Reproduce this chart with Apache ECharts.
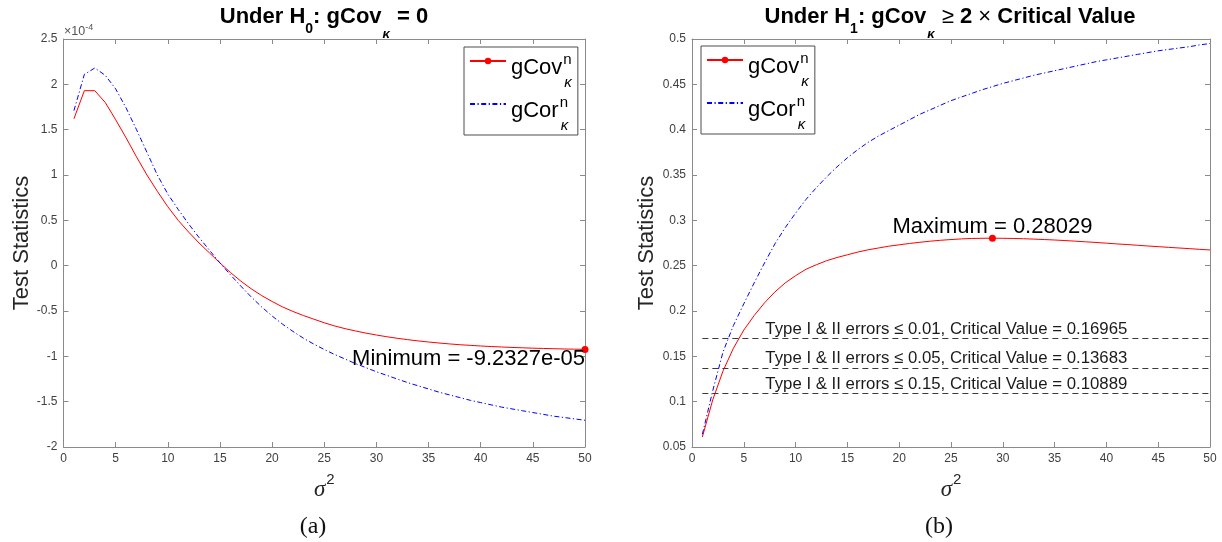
<!DOCTYPE html>
<html>
<head>
<meta charset="utf-8">
<script src="https://cdn.jsdelivr.net/npm/echarts@6/dist/echarts.min.js"></script>
<style>html,body{margin:0;padding:0;background:#fff}#c{width:1222px;height:542px}</style>
</head>
<body>
<div id="c"></div>
<script>
// ---- data ----
const sigma2 = [1,2,3,4,5,6,7,8,9,10,11,12,13,14,15,16,17,18,19,20,21,22,23,24,25,26,27,28,29,30,31,32,33,34,35,36,37,38,39,40,41,42,43,44,45,46,47,48,49,50];
// panel (a), values in units of 1e-4
const gCovH0 = [1.62,1.93,1.93,1.80,1.61,1.41,1.20,1.00,0.82,0.65,0.50,0.37,0.25,0.14,0.03,-0.075,-0.17,-0.255,-0.33,-0.395,-0.455,-0.505,-0.55,-0.59,-0.63,-0.665,-0.695,-0.72,-0.744,-0.765,-0.784,-0.801,-0.816,-0.83,-0.842,-0.853,-0.863,-0.872,-0.879,-0.886,-0.892,-0.897,-0.902,-0.906,-0.91,-0.913,-0.916,-0.919,-0.921,-0.92327];
const gCorH0 = [1.71,2.11,2.18,2.10,1.95,1.74,1.50,1.25,1.00,0.79,0.62,0.46,0.31,0.17,0.03,-0.10,-0.225,-0.345,-0.455,-0.555,-0.645,-0.725,-0.80,-0.865,-0.925,-0.98,-1.03,-1.08,-1.125,-1.17,-1.21,-1.25,-1.29,-1.325,-1.36,-1.395,-1.425,-1.455,-1.485,-1.51,-1.535,-1.56,-1.58,-1.60,-1.62,-1.64,-1.66,-1.675,-1.69,-1.705];
const scaleExponentH0 = -4;
// panel (b)
const gCovH1 = [0.061,0.102,0.134,0.159,0.179,0.195,0.209,0.221,0.231,0.239,0.246,0.251,0.2555,0.259,0.262,0.265,0.2675,0.2695,0.2715,0.273,0.2745,0.2758,0.277,0.278,0.2788,0.2795,0.28,0.2802,0.28029,0.2802,0.28,0.2797,0.2793,0.2788,0.2783,0.2777,0.277,0.2763,0.2756,0.2748,0.274,0.2733,0.2725,0.2717,0.271,0.2702,0.2695,0.2688,0.268,0.2673];
const gCorH1 = [0.064,0.112,0.155,0.184,0.208,0.231,0.253,0.274,0.292,0.308,0.323,0.336,0.348,0.359,0.369,0.378,0.386,0.393,0.399,0.405,0.411,0.417,0.422,0.427,0.432,0.436,0.440,0.444,0.4475,0.451,0.454,0.457,0.460,0.4625,0.465,0.4675,0.470,0.4725,0.475,0.477,0.479,0.481,0.483,0.485,0.487,0.4885,0.490,0.4915,0.4935,0.495];
const errorLevels = ['0.01','0.05','0.15'];
const criticalValues = [0.16965,0.13683,0.10889];
const seriesNames = ['gCov','gCor'];

// ---- styling ----
const FF = '"Liberation Sans", Arial, Helvetica, sans-serif';
const AX = '#8a8a8a';
const pairs = ys => sigma2.map((x, i) => [x, ys[i]]);

function xAxes(g) {
  const base = {type:'value', gridIndex:g, min:0, max:50, interval:5,
    axisLine:{show:true, onZero:false, lineStyle:{color:AX, width:1}},
    axisTick:{show:true, inside:true, length:5, lineStyle:{color:AX}},
    splitLine:{show:false}};
  return [
    Object.assign({}, base, {position:'bottom',
      axisLabel:{color:'#404040', fontSize:12, fontFamily:FF, margin:6, showMinLabel:true, showMaxLabel:true},
      name:'{s|σ}{p|2}', nameLocation:'middle', nameGap:25,
      nameTextStyle:{rich:{
        s:{fontSize:23, fontStyle:'italic', fontFamily:'"Liberation Serif", serif', color:'#262626', lineHeight:28, verticalAlign:'top', padding:[6,0,0,0]},
        p:{fontSize:15, fontFamily:FF, color:'#262626', lineHeight:16, verticalAlign:'top', padding:[0,0,0,1]}
      }}}),
    Object.assign({}, base, {position:'top', axisLabel:{show:false}})
  ];
}
function yAxes(g, min, max, interval, gap) {
  const base = {type:'value', gridIndex:g, min:min, max:max, interval:interval,
    axisLine:{show:true, onZero:false, lineStyle:{color:AX, width:1}},
    axisTick:{show:true, inside:true, length:5, lineStyle:{color:AX}},
    splitLine:{show:false}};
  return [
    Object.assign({}, base, {position:'left',
      axisLabel:{color:'#404040', fontSize:12, fontFamily:FF, margin:6, showMinLabel:true, showMaxLabel:true},
      name:'Test Statistics', nameLocation:'middle', nameRotate:90, nameGap:gap,
      nameTextStyle:{fontSize:22, fontFamily:FF, color:'#262626'}}),
    Object.assign({}, base, {position:'right', axisLabel:{show:false}})
  ];
}

const titleRich = {
  b:{fontSize:22, fontWeight:'bold', fontFamily:FF, color:'#000', lineHeight:24, verticalAlign:'top'},
  n:{fontSize:22, fontWeight:'normal', fontFamily:FF, color:'#000', lineHeight:24, verticalAlign:'top'},
  s:{fontSize:14, fontWeight:'bold', fontFamily:FF, color:'#000', lineHeight:16, verticalAlign:'top', padding:[16.5,0,0,0]},
  k:{fontSize:13, fontStyle:'italic', fontWeight:'bold', fontFamily:FF, color:'#000', lineHeight:14, verticalAlign:'top', padding:[22,1,0,1]}
};
const legendRich = {
  m:{fontSize:22, fontFamily:FF, color:'#000', lineHeight:24, verticalAlign:'top', padding:[8,0,8,0]},
  p:{fontSize:15, fontFamily:FF, color:'#000', lineHeight:16, verticalAlign:'top', padding:[3,0,0,1], width:0},
  k:{fontSize:15, fontStyle:'italic', fontFamily:FF, color:'#000', lineHeight:14, verticalAlign:'top', padding:[26,0,0,1]}
};
function legendAt(left, top) {
  return {
    data:[{name:seriesNames[0]}, {name:seriesNames[1], itemStyle:{opacity:0}}],
    orient:'vertical', left:left, top:top, padding:[2,6,2,5], itemGap:2,
    itemWidth:36, itemHeight:8, backgroundColor:'#fff', borderColor:'#4d4d4d', borderWidth:1,
    formatter: name => '{m|' + name + '}{p|n}{k|κ}',
    textStyle:{rich:legendRich}, selectedMode:false
  };
}
function fmtExp(v) {
  return v.toExponential(4).replace(/e([+-])(\d)$/, 'e$10$2');
}

const option = {
  animation:false,
  backgroundColor:'#fff',
  title:[
    {text:'{b|Under H}{s|0}{b|: gCov}{k|κ}{b| = 0}', left:324, top:5.5, textAlign:'center', padding:0, textStyle:{rich:titleRich}},
    {text:'{b|Under H}{s|1}{b|: gCov}{k|κ}{n| ≥ }{b|2}{n| × }{b|Critical Value}', left:950, top:5.5, textAlign:'center', padding:0, textStyle:{rich:titleRich}},
    {text:'(a)', left:313, top:515, textAlign:'center', padding:0, textStyle:{fontFamily:'"Liberation Serif", serif', fontSize:24, fontWeight:'normal', color:'#111'}},
    {text:'(b)', left:939, top:515, textAlign:'center', padding:0, textStyle:{fontFamily:'"Liberation Serif", serif', fontSize:24, fontWeight:'normal', color:'#111'}}
  ],
  legend:[legendAt(464, 47), legendAt(701, 46)],
  grid:[
    {left:63.5, top:39, width:521.5, height:408, outerBoundsMode:'none'},
    {left:692, top:39, width:518, height:408, outerBoundsMode:'none'}
  ],
  xAxis:[].concat(xAxes(0), xAxes(1)),
  yAxis:[].concat(yAxes(0, -2, 2.5, 0.5, 31), yAxes(1, 0.05, 0.5, 0.05, 34)),
  graphic:[{
    type:'text', left:64, top:22,
    style:{text:'{a|×10}{b|-4}', rich:{
      a:{fontSize:12.5, fill:'#555', color:'#555', fontFamily:FF, lineHeight:14, verticalAlign:'top', padding:[3,0,0,0]},
      b:{fontSize:9, fill:'#555', color:'#555', fontFamily:FF, lineHeight:10, verticalAlign:'top', padding:[1,0,0,0]}
    }}
  }],
  series:[
    {name:seriesNames[0], type:'line', xAxisIndex:0, yAxisIndex:0, data:pairs(gCovH0),
     symbol:'circle', symbolSize:7, showSymbol:false, itemStyle:{color:'#ff0000'},
     lineStyle:{color:'#ff0000', width:1}, silent:true, z:3,
     markPoint:{symbol:'circle', symbolSize:7, itemStyle:{color:'#ff0000'}, silent:true,
       data:[{type:'min', valueDim:'y'}],
       label:{show:true, position:[3.5, 13], align:'right', verticalAlign:'middle',
         fontSize:22, fontFamily:FF, color:'#000',
         formatter: p => 'Minimum = ' + fmtExp(p.value * Math.pow(10, scaleExponentH0))}}},
    {name:seriesNames[1], type:'line', xAxisIndex:0, yAxisIndex:0, data:pairs(gCorH0),
     symbol:'none', itemStyle:{color:'#0000ff'}, silent:true,
     lineStyle:{color:'#0000ff', width:1, type:[5,2.5,1.2,2.5]}},
    {name:seriesNames[0], type:'line', xAxisIndex:2, yAxisIndex:2, data:pairs(gCovH1),
     symbol:'circle', symbolSize:7, showSymbol:false, itemStyle:{color:'#ff0000'},
     lineStyle:{color:'#ff0000', width:1}, silent:true, z:3,
     markPoint:{symbol:'circle', symbolSize:7, itemStyle:{color:'#ff0000'}, silent:true,
       data:[{type:'max', valueDim:'y'}],
       label:{show:true, position:[3.5, -8], align:'center', verticalAlign:'middle',
         fontSize:22, fontFamily:FF, color:'#000',
         formatter: p => 'Maximum = ' + p.value.toFixed(5)}},
     markLine:{symbol:['none','none'], silent:true,
       lineStyle:{type:[6,4], color:'#3a3a3a', width:1},
       label:{show:true, position:'insideStartTop', distance:[63,1], formatter:'{b}',
         fontSize:16.8, fontFamily:FF, color:'#1a1a1a'},
       emphasis:{disabled:true},
       data: criticalValues.map((v, i) => [
         {coord:[sigma2[0], v], name:'Type I & II errors ≤ ' + errorLevels[i] + ', Critical Value = ' + v.toFixed(5)},
         {coord:[sigma2[sigma2.length - 1], v]}
       ])}},
    {name:seriesNames[1], type:'line', xAxisIndex:2, yAxisIndex:2, data:pairs(gCorH1),
     symbol:'none', itemStyle:{color:'#0000ff'}, silent:true,
     lineStyle:{color:'#0000ff', width:1, type:[5,2.5,1.2,2.5]}}
  ]
};
const chart = echarts.init(document.getElementById('c'), null, {renderer:'canvas'});
chart.setOption(option);
</script>
</body>
</html>
